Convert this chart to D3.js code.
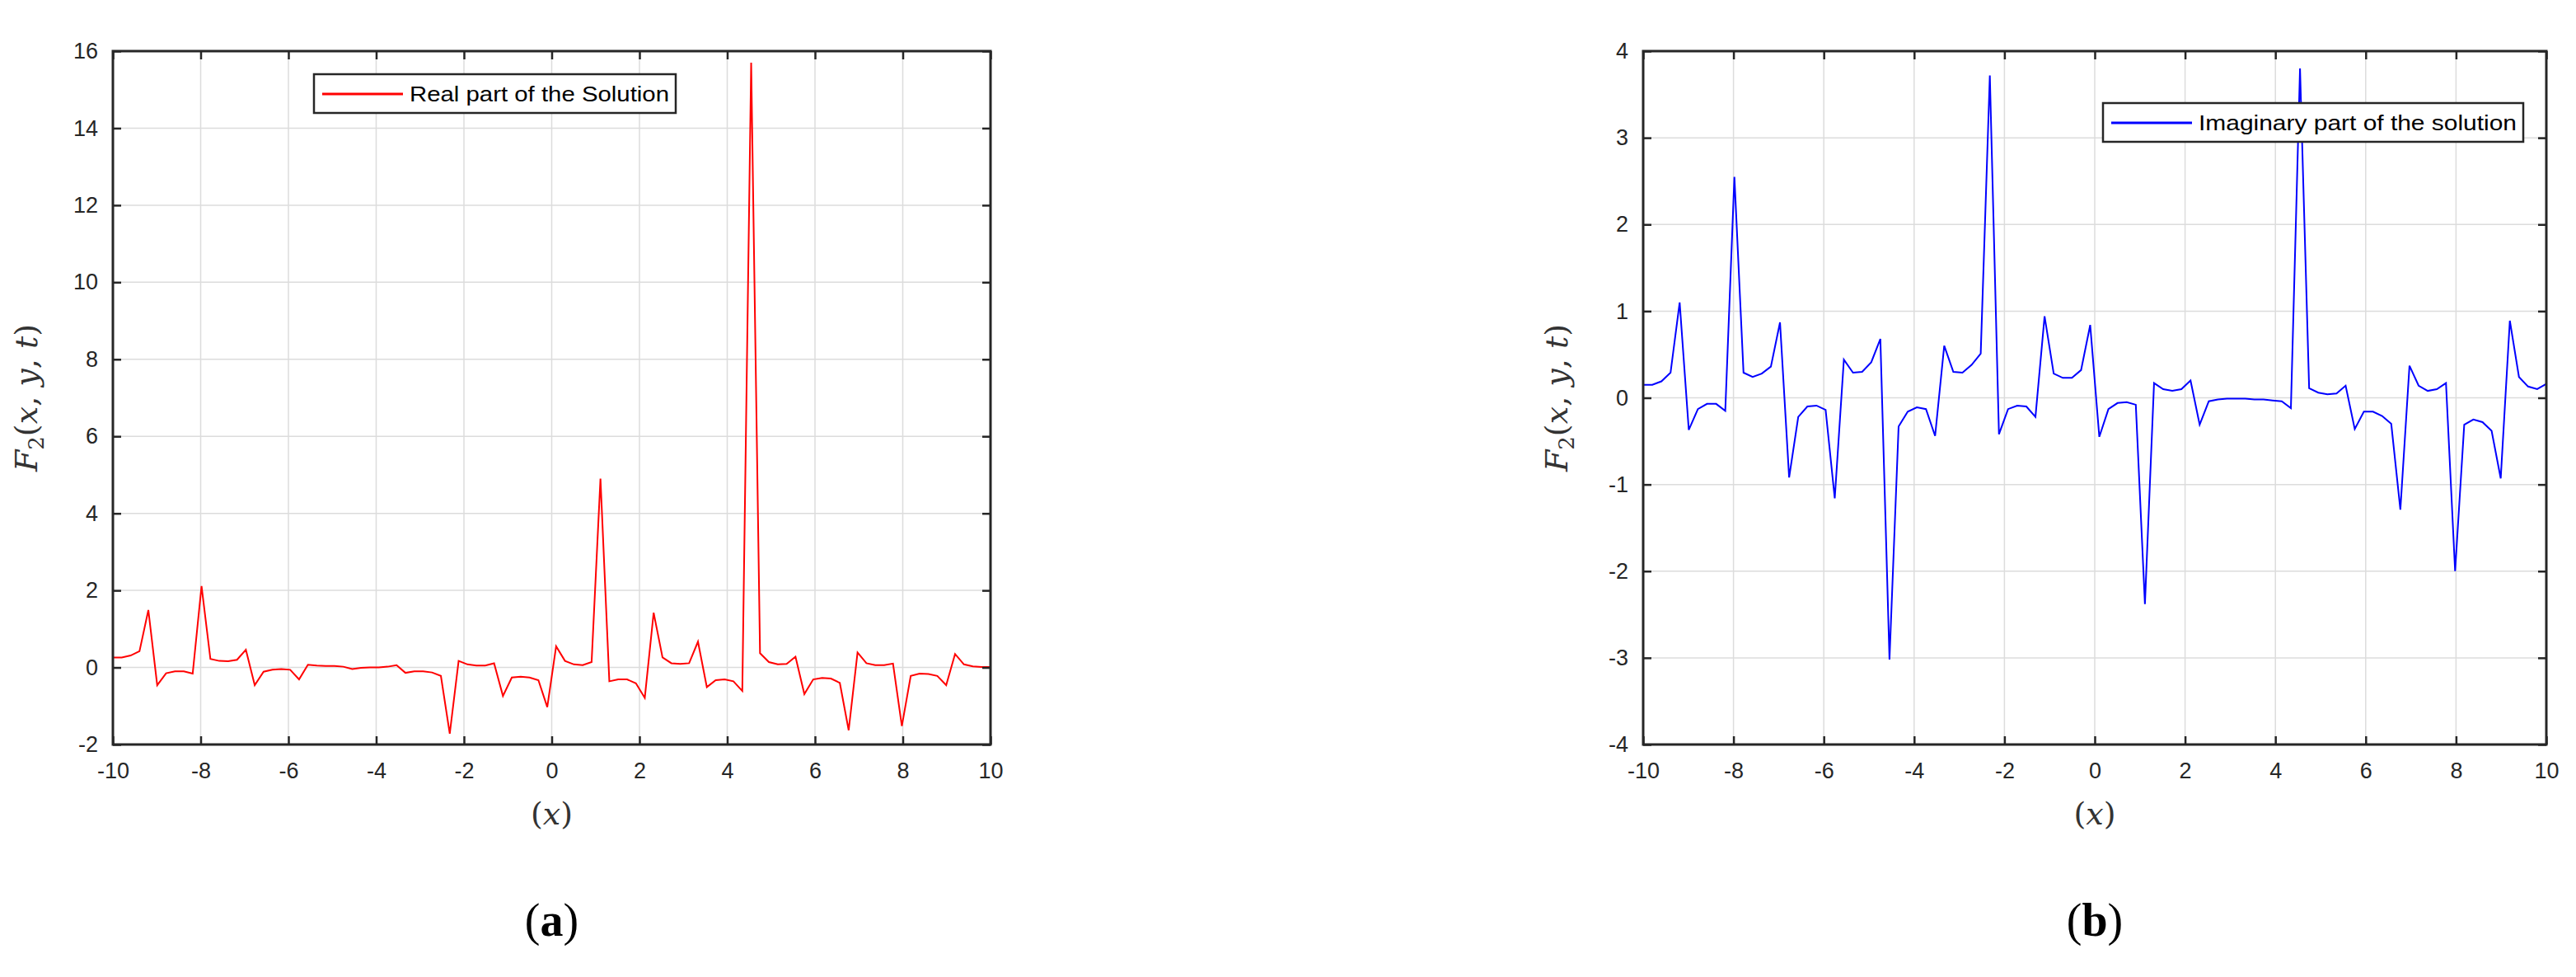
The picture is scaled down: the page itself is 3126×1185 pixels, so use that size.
<!DOCTYPE html>
<html><head><meta charset="utf-8">
<script src="https://cdn.jsdelivr.net/npm/d3@7"></script>
<style>body{margin:0;background:#fff}svg{display:block}</style>
</head><body>
<svg id="c" width="3126" height="1185"></svg>
<script>
const N = 100;
const xTicks = [-10,-8,-6,-4,-2,0,2,4,6,8,10];
const yTicksA = [-2,0,2,4,6,8,10,12,14,16];
const yTicksB = [-4,-3,-2,-1,0,1,2,3,4];
const realPart = [0.26,0.26,0.31,0.42,1.49,-0.46,-0.15,-0.1,-0.1,-0.16,
 2.11,0.22,0.17,0.16,0.2,0.46,-0.46,-0.11,-0.06,-0.04,
 -0.06,-0.31,0.07,0.05,0.04,0.04,0.02,-0.04,-0.01,0,
 0,0.02,0.06,-0.14,-0.1,-0.1,-0.13,-0.22,-1.72,0.17,
 0.08,0.05,0.05,0.11,-0.74,-0.26,-0.24,-0.26,-0.33,-1.03,
 0.55,0.17,0.08,0.06,0.14,4.9,-0.36,-0.31,-0.31,-0.41,
 -0.79,1.42,0.26,0.11,0.09,0.11,0.67,-0.51,-0.33,-0.31,
 -0.36,-0.61,15.7,0.37,0.14,0.08,0.09,0.28,-0.69,-0.31,
 -0.27,-0.29,-0.4,-1.63,0.39,0.11,0.06,0.06,0.1,-1.52,
 -0.22,-0.16,-0.17,-0.22,-0.46,0.35,0.08,0.03,0.01,0.01];
const imagPart = [0.15,0.15,0.19,0.29,1.1,-0.37,-0.13,-0.07,-0.07,-0.15,
 2.55,0.29,0.24,0.28,0.36,0.87,-0.92,-0.22,-0.1,-0.09,
 -0.14,-1.16,0.44,0.29,0.3,0.41,0.68,-3.02,-0.33,-0.16,
 -0.11,-0.13,-0.44,0.6,0.3,0.29,0.38,0.51,3.72,-0.42,
 -0.13,-0.09,-0.1,-0.22,0.94,0.28,0.23,0.23,0.32,0.84,
 -0.45,-0.13,-0.06,-0.05,-0.08,-2.38,0.17,0.1,0.08,0.1,
 0.2,-0.31,-0.04,-0.02,-0.01,-0.01,-0.01,-0.02,-0.02,-0.03,
 -0.04,-0.12,3.8,0.11,0.06,0.04,0.05,0.14,-0.36,-0.16,
 -0.16,-0.21,-0.3,-1.29,0.37,0.14,0.08,0.1,0.17,-2.0,
 -0.31,-0.25,-0.28,-0.38,-0.93,0.89,0.24,0.13,0.1,0.16];
const xs = d3.range(N).map(k => -10 + 20*k/(N-1));

const svg = d3.select('#c');
const tickFont = 'Liberation Sans, Arial, sans-serif';
const fmt = d => String(d);

function panel(o){
  const g = svg.append('g');
  const x = d3.scaleLinear().domain([-10,10]).range([o.l,o.r]);
  const y = d3.scaleLinear().domain(o.yd).range([o.b,o.t]);
  g.selectAll('.gx').data(xTicks).join('line')
    .attr('x1',d=>x(d)).attr('x2',d=>x(d)).attr('y1',o.t).attr('y2',o.b)
    .attr('stroke','#dcdcdc').attr('stroke-width',1.5);
  g.selectAll('.gy').data(o.yt).join('line')
    .attr('y1',d=>y(d)).attr('y2',d=>y(d)).attr('x1',o.l).attr('x2',o.r)
    .attr('stroke','#dcdcdc').attr('stroke-width',1.5);
  g.append('path').datum(o.data.map((v,i)=>[xs[i],v]))
    .attr('d', d3.line().x(d=>x(d[0])).y(d=>y(d[1])))
    .attr('fill','none').attr('stroke',o.color).attr('stroke-width',2);
  const tl = 10;
  const ax = d3.axisBottom(x).tickValues(xTicks).tickSizeInner(-tl).tickSizeOuter(0).tickPadding(22).tickFormat(fmt);
  const axT = d3.axisTop(x).tickValues(xTicks).tickSizeInner(-tl).tickSizeOuter(0).tickFormat('');
  const ay = d3.axisLeft(y).tickValues(o.yt).tickSizeInner(-tl).tickSizeOuter(0).tickPadding(18).tickFormat(fmt);
  const ayR = d3.axisRight(y).tickValues(o.yt).tickSizeInner(-tl).tickSizeOuter(0).tickFormat('');
  [[ax,`translate(0,${o.b})`],[axT,`translate(0,${o.t})`],[ay,`translate(${o.l},0)`],[ayR,`translate(${o.r},0)`]]
   .forEach(([a,t])=>{
     const s = g.append('g').attr('transform',t).call(a);
     s.select('.domain').remove();
     s.selectAll('line').attr('stroke','#262626').attr('stroke-width',2.5);
     s.selectAll('text').attr('fill','#262626').style('font-family',tickFont).style('font-size','27px');
   });
  g.append('rect').attr('x',o.l).attr('y',o.t).attr('width',o.r-o.l).attr('height',o.b-o.t)
    .attr('fill','none').attr('stroke','#262626').attr('stroke-width',3);
  g.append('rect').attr('x',o.lg[0]).attr('y',o.lg[1]).attr('width',o.lg[2]).attr('height',47)
    .attr('fill','#fff').attr('stroke','#262626').attr('stroke-width',2.5);
  g.append('line').attr('x1',o.lg[0]+10).attr('x2',o.lg[0]+108).attr('y1',o.lg[1]+24).attr('y2',o.lg[1]+24)
    .attr('stroke',o.color).attr('stroke-width',3);
  g.append('text').attr('x',o.lg[0]+116).attr('y',o.lg[1]+33).text(o.label)
    .attr('fill','#000').style('font-family',tickFont).style('font-size','26px')
    .attr('textLength',o.lg[2]-124).attr('lengthAdjust','spacingAndGlyphs');
  const xl = g.append('text').attr('x',(o.l+o.r)/2).attr('y',1000).attr('text-anchor','middle')
    .style('font-family','DejaVu Serif, serif').style('font-size','38px').attr('fill','#333');
  xl.append('tspan').text('(');
  xl.append('tspan').text('x').style('font-style','italic');
  xl.append('tspan').text(')');
  const yl = g.append('text').attr('transform',`translate(${o.l-92},${(o.t+o.b)/2}) rotate(-90)`)
    .attr('text-anchor','middle').style('font-family','DejaVu Serif, serif').style('font-size','38px').attr('fill','#333');
  yl.append('tspan').text('F').style('font-style','italic');
  yl.append('tspan').text('2').attr('dy',8).style('font-size','26px');
  yl.append('tspan').text('(').attr('dy',-8);
  yl.append('tspan').text('x').style('font-style','italic');
  yl.append('tspan').text(', ');
  yl.append('tspan').text('y').style('font-style','italic');
  yl.append('tspan').text(', ');
  yl.append('tspan').text('t').style('font-style','italic');
  yl.append('tspan').text(')');
  const cap = g.append('text').attr('x',(o.l+o.r)/2).attr('y',1135).attr('text-anchor','middle')
    .style('font-family','Liberation Serif, serif').style('font-size','56px').attr('fill','#000');
  cap.append('tspan').text('(');
  cap.append('tspan').text(o.cap).style('font-weight','bold');
  cap.append('tspan').text(')');
}

panel({l:137,r:1202,t:62,b:903,yd:[-2,16],yt:yTicksA,data:realPart,color:'#ff0000',
  label:'Real part of the Solution',lg:[381,90,439],cap:'a'});
panel({l:1994,r:3090,t:62,b:903,yd:[-4,4],yt:yTicksB,data:imagPart,color:'#0000ff',
  label:'Imaginary part of the solution',lg:[2552,125,510],cap:'b'});
</script>
</body></html>
